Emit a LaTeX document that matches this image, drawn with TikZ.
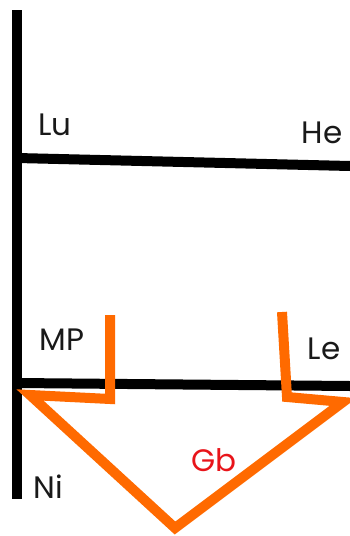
\documentclass[tikz,border=0pt]{standalone}
\usepackage{fontspec}
\setmainfont{Poppins}
\usepackage{xcolor}
\usetikzlibrary{positioning,calc}
\definecolor{gborange}{HTML}{FF6A00}
\definecolor{gbred}{HTML}{E8141A}

\begin{document}
\begin{tikzpicture}[
    x=1pt, y=-1pt,
    font=\fontsize{31}{34}\selectfont,
    axis/.style={draw=black, line width=10pt},
    gbline/.style={draw=gborange, line width=10pt, line join=miter, miter limit=20},
    lbl/.style={inner sep=0pt, text=black!90}
  ]
    \useasboundingbox (0,0) rectangle (350,536);
    % axes
    \coordinate (top) at (17,10);
    \coordinate (bot) at (17,499);
    \coordinate (hl) at (17,158);
    \coordinate (hr) at (350,166);
    \coordinate (ll) at (17,383);
    \coordinate (lr) at (350,386);
    \draw[axis] (top) -- (bot);
    \draw[axis] (hl) -- (hr);
    \draw[axis] (ll) -- (lr);
    % orange outline
    \coordinate (a1) at (110,315);
    \coordinate (a2) at (110,399);
    \coordinate (a3) at (30,395);
    \coordinate (tip) at (175,528);
    \coordinate (a5) at (343,402);
    \coordinate (a6) at (287,397);
    \coordinate (a7) at (282,312);
    \draw[gbline] (a1) -- (a2) -- (a3) -- (tip) -- (a5) -- (a6) -- (a7);
    % labels
    \node[lbl] (lu) at (55,125) {Lu};
    \node[lbl] (he) at (322,133) {He};
    \node[lbl] (mp) at (62,340) {MP};
    \node[lbl] (le) at (324,349) {Le};
    \node[lbl] (ni) at (48,487) {Ni};
    \node[lbl, text=gbred] (gb) at (214,460) {Gb};
  \end{tikzpicture}
\end{document}
